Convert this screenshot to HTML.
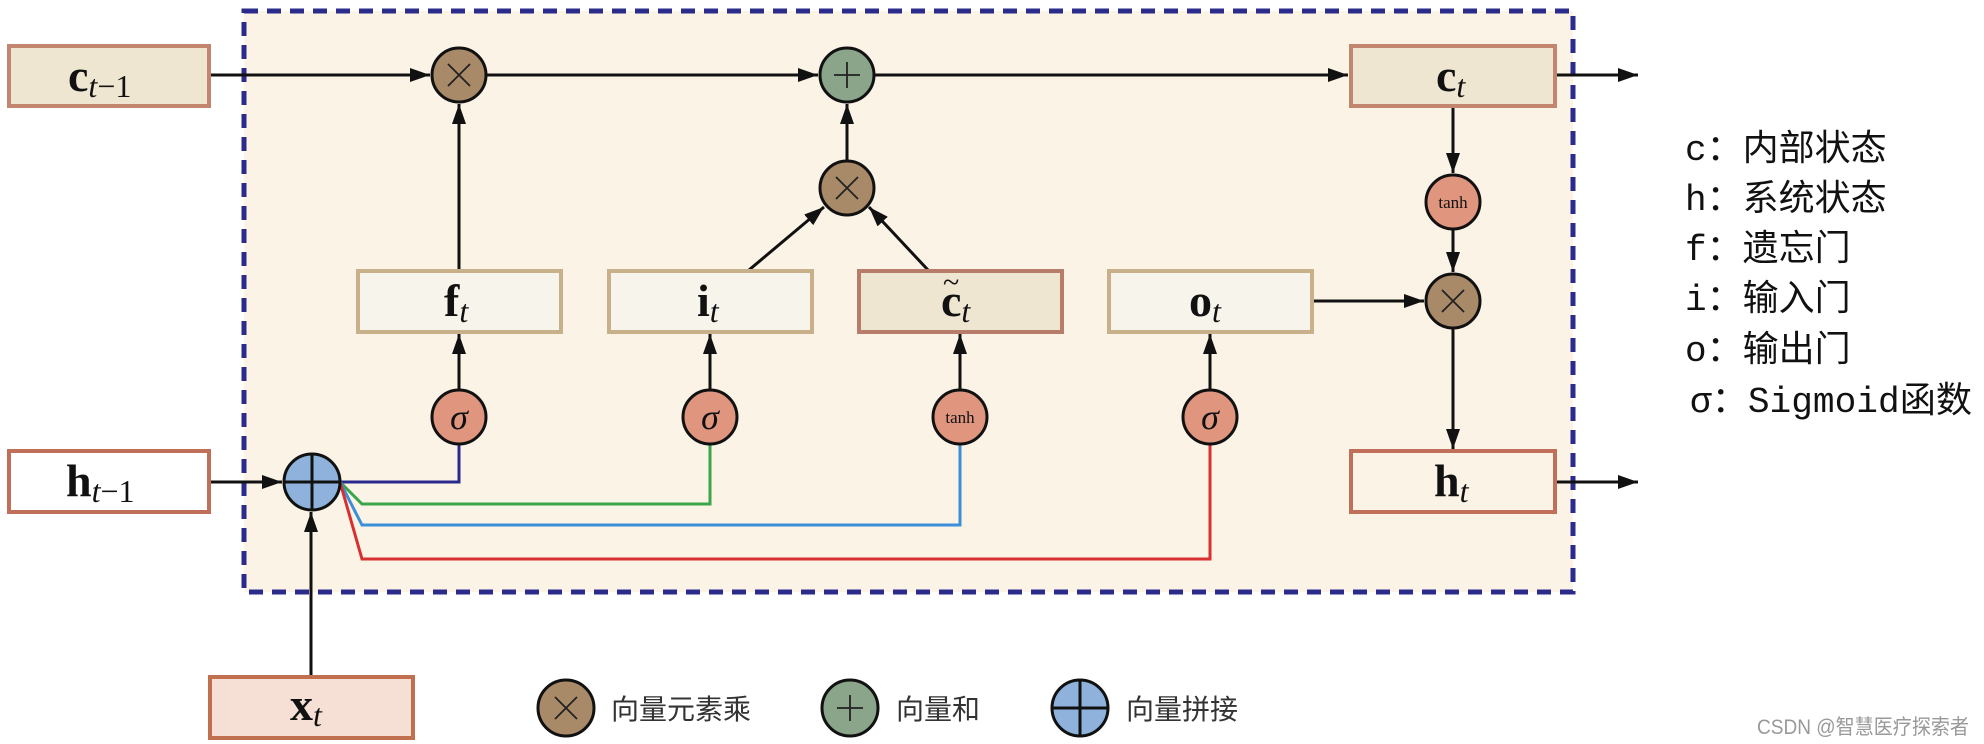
<!DOCTYPE html>
<html><head><meta charset="utf-8"><style>
html,body{margin:0;padding:0;background:#fff;}
svg{display:block;}
</style></head><body>
<svg width="1984" height="744" viewBox="0 0 1984 744" xmlns="http://www.w3.org/2000/svg">
<defs>
<marker id="a" viewBox="0 0 20 14" markerWidth="20" markerHeight="14" refX="20" refY="7" orient="auto" markerUnits="userSpaceOnUse">
<path d="M0,0 L20,7 L0,14 z" fill="#111"/>
</marker>
</defs>
<rect x="244" y="11" width="1329" height="581" fill="#fcf3e7" stroke="#2b2b8c" stroke-width="5" stroke-dasharray="14,9"/>

<g stroke="#111" stroke-width="3" fill="none">
<line x1="210" y1="75" x2="430" y2="75" marker-end="url(#a)"/>
<line x1="487" y1="75" x2="818" y2="75" marker-end="url(#a)"/>
<line x1="875" y1="75" x2="1348" y2="75" marker-end="url(#a)"/>
<line x1="1555" y1="75" x2="1638" y2="75" marker-end="url(#a)"/>
<line x1="1555" y1="482" x2="1638" y2="482" marker-end="url(#a)"/>
<line x1="210" y1="482" x2="282" y2="482" marker-end="url(#a)"/>
<line x1="311" y1="677" x2="311" y2="512" marker-end="url(#a)"/>
<line x1="459" y1="270" x2="459" y2="104" marker-end="url(#a)"/>
<line x1="847" y1="161" x2="847" y2="104" marker-end="url(#a)"/>
<line x1="749" y1="270" x2="824" y2="207" marker-end="url(#a)"/>
<line x1="928" y1="270" x2="869" y2="207" marker-end="url(#a)"/>
<line x1="459" y1="390" x2="459" y2="334" marker-end="url(#a)"/>
<line x1="710" y1="390" x2="710" y2="334" marker-end="url(#a)"/>
<line x1="960" y1="390" x2="960" y2="334" marker-end="url(#a)"/>
<line x1="1210" y1="390" x2="1210" y2="334" marker-end="url(#a)"/>
<line x1="1313" y1="301" x2="1424" y2="301" marker-end="url(#a)"/>
<line x1="1453" y1="107" x2="1453" y2="173" marker-end="url(#a)"/>
<line x1="1453" y1="230" x2="1453" y2="272" marker-end="url(#a)"/>
<line x1="1453" y1="329" x2="1453" y2="449" marker-end="url(#a)"/>
</g>

<g fill="none" stroke-width="3">
<polyline points="340,482 459,482 459,444" stroke="#2a2a8c"/>
<polyline points="340,482 362,504 710,504 710,444" stroke="#3aa64a"/>
<polyline points="340,482 362,525 960,525 960,444" stroke="#3a8fd8"/>
<polyline points="340,482 362,559 1210,559 1210,444" stroke="#d83030"/>
</g>

<g stroke-width="4">
<rect x="9" y="46" width="200" height="60" fill="#efe6d2" stroke="#c28670"/>
<rect x="9" y="451" width="200" height="61" fill="#ffffff" stroke="#c0705a"/>
<rect x="210" y="677" width="203" height="61" fill="#f6e0d5" stroke="#c0704e"/>
<rect x="358" y="271" width="203" height="61" fill="#f7f4ec" stroke="#c8b08a"/>
<rect x="609" y="271" width="203" height="61" fill="#f7f4ec" stroke="#c8b08a"/>
<rect x="859" y="271" width="203" height="61" fill="#efe6d2" stroke="#b87c6a"/>
<rect x="1109" y="271" width="203" height="61" fill="#f7f4ec" stroke="#c8b08a"/>
<rect x="1351" y="46" width="204" height="60" fill="#efe6d2" stroke="#c28670"/>
<rect x="1351" y="451" width="204" height="61" fill="#fcf3e7" stroke="#c0705a"/>
</g>

<g stroke="#111" stroke-width="3">
<circle cx="459" cy="75" r="27" fill="#a88a68"/>
<circle cx="847" cy="75" r="27" fill="#8ba58a"/>
<circle cx="847" cy="188" r="27" fill="#a88a68"/>
<circle cx="1453" cy="301" r="27" fill="#a88a68"/>
<circle cx="1453" cy="202" r="27" fill="#e0967e"/>
<circle cx="459" cy="417" r="27" fill="#e0967e"/>
<circle cx="710" cy="417" r="27" fill="#e0967e"/>
<circle cx="960" cy="417" r="27" fill="#e0967e"/>
<circle cx="1210" cy="417" r="27" fill="#e0967e"/>
<circle cx="312" cy="482" r="28" fill="#8fb2dc"/>
<circle cx="566" cy="708" r="28" fill="#a88a68"/>
<circle cx="850" cy="708" r="28" fill="#8ba58a"/>
<circle cx="1080" cy="708" r="28" fill="#8fb2dc"/>
</g>
<g stroke="#222" stroke-width="1.8">
<path d="M448,64 L470,86 M470,64 L448,86"/>
<path d="M836,177 L858,199 M858,177 L836,199"/>
<path d="M1442,290 L1464,312 M1464,290 L1442,312"/>
<path d="M555,697 L577,719 M577,697 L555,719"/>
<path d="M834,75 L860,75 M847,62 L847,88"/>
<path d="M837,708 L863,708 M850,695 L850,721"/>
</g>
<g stroke="#111" stroke-width="3">
<path d="M284,482 L340,482 M312,454 L312,510"/>
<path d="M1052,708 L1108,708 M1080,680 L1080,736"/>
</g>

<g font-family="Liberation Serif, serif" fill="#111">
<text x="459" y="429" font-size="36" font-style="italic" text-anchor="middle">σ</text>
<text x="710" y="429" font-size="36" font-style="italic" text-anchor="middle">σ</text>
<text x="1210" y="429" font-size="36" font-style="italic" text-anchor="middle">σ</text>
<text x="960" y="423" font-size="17" text-anchor="middle">tanh</text>
<text x="1453" y="208" font-size="17" text-anchor="middle">tanh</text>

<text x="68" y="91" font-size="46" font-weight="bold">c<tspan font-size="32" font-weight="normal" font-style="italic" dy="6">t</tspan><tspan font-size="32" font-weight="normal">−1</tspan></text>
<text x="66" y="496" font-size="46" font-weight="bold">h<tspan font-size="32" font-weight="normal" font-style="italic" dy="6">t</tspan><tspan font-size="32" font-weight="normal">−1</tspan></text>
<text x="290" y="720" font-size="46" font-weight="bold">x<tspan font-size="32" font-weight="normal" font-style="italic" dy="6">t</tspan></text>
<text x="444" y="316" font-size="46" font-weight="bold">f<tspan font-size="32" font-weight="normal" font-style="italic" dy="6">t</tspan></text>
<text x="697" y="316" font-size="46" font-weight="bold">i<tspan font-size="32" font-weight="normal" font-style="italic" dy="6">t</tspan></text>
<text x="941" y="316" font-size="46" font-weight="bold">c<tspan font-size="32" font-weight="normal" font-style="italic" dy="6">t</tspan></text>
<text x="943" y="292" font-size="30">~</text>
<text x="1189" y="316" font-size="46" font-weight="bold">o<tspan font-size="32" font-weight="normal" font-style="italic" dy="6">t</tspan></text>
<text x="1436" y="91" font-size="46" font-weight="bold">c<tspan font-size="32" font-weight="normal" font-style="italic" dy="6">t</tspan></text>
<text x="1434" y="496" font-size="46" font-weight="bold">h<tspan font-size="32" font-weight="normal" font-style="italic" dy="6">t</tspan></text>
</g>

<g font-family="Liberation Sans, 'Noto Sans CJK SC', sans-serif" fill="#333" font-size="28">
<text x="611" y="719">向量元素乘</text>
<text x="896" y="719">向量和</text>
<text x="1126" y="719">向量拼接</text>
</g>
<g font-family="Liberation Mono, 'Noto Sans CJK SC', monospace" fill="#111" font-size="36">
<text x="1685" y="160">c：内部状态</text>
<text x="1685" y="210">h：系统状态</text>
<text x="1685" y="260">f：遗忘门</text>
<text x="1685" y="310">i：输入门</text>
<text x="1685" y="361">o：输出门</text>
<text x="1690" y="412" textLength="282" lengthAdjust="spacingAndGlyphs">σ：Sigmoid函数</text>
</g>
<text x="1757" y="734" font-family="Liberation Sans, 'Noto Sans CJK SC', sans-serif" font-size="21" fill="#999" textLength="212" lengthAdjust="spacingAndGlyphs">CSDN @智慧医疗探索者</text>
</svg>
</body></html>
